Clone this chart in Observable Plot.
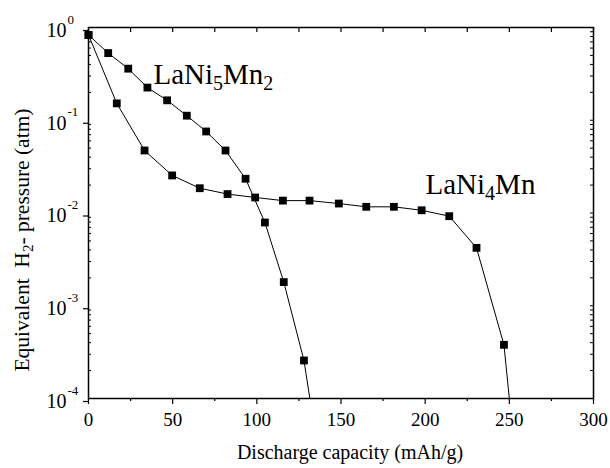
<!DOCTYPE html>
<html><head><meta charset="utf-8">
<script src="https://cdn.jsdelivr.net/npm/d3@7"></script>
<script src="https://cdn.jsdelivr.net/npm/@observablehq/plot@0.6"></script>
<style>body{margin:0;background:#fff}</style>
</head><body><div id="chart"></div>
<script>
// LaNi5Mn2 series (discharge capacity mAh/g, equivalent H2 pressure atm)
const capA  = [0, 11.7, 23.6, 35, 46.7, 58.4, 69.9, 81.4, 93.3, 104.8, 116, 128];
const presA = [0.83, 0.53, 0.36, 0.225, 0.164, 0.112, 0.0757, 0.0472, 0.0234, 0.0079, 0.0018, 0.000257];
const endA  = [131.5, 1e-4];
// LaNi4Mn series
const capB  = [0, 16.8, 33.3, 49.7, 66.1, 82.6, 99, 115.5, 131.3, 148.7, 165, 181.4, 197.9, 214.3, 230.5, 246.8];
const presB = [0.83, 0.152, 0.0472, 0.0254, 0.0185, 0.016, 0.0147, 0.0136, 0.0136, 0.01265, 0.01166, 0.01166, 0.0107, 0.00924, 0.00421, 0.000379];
const endB  = [250, 1e-4];
// tick labels
const xTicks = [0, 50, 100, 150, 200, 250, 300];
const xMinorTicks = [25, 75, 125, 175, 225, 275];
const yTicks = [1, 0.1, 0.01, 0.001, 0.0001];
const yExps = ["0", "-1", "-2", "-3", "-4"];
// labels
const seriesNames = ["LaNi5Mn2", "LaNi4Mn"];
const seriesParts = [[["LaNi",0],["5",1],["Mn",0],["2",1]], [["LaNi",0],["4",1],["Mn",0]]];
const seriesLabelPos = [[38.6, 0.249], [200.2, 0.0162]];
const xLabel = "Discharge capacity (mAh/g)";
const yLabelParts = [["Equivalent  H",0],["2",1],["- pressure (atm)",0]];

const W = 610, H = 468, mL = 88, mR = 17, mT = 27, mB = 70;
const plotW = W - mL - mR, plotH = H - mT - mB;

const yMinor = [];
for (let e = -4; e < 0; e++) for (let k = 2; k <= 9; k++) yMinor.push(k * Math.pow(10, e));
const xAllTicks = xTicks.concat(xMinorTicks);

const rowsA = capA.map((c, i) => ({x: c, y: presA[i]}));
const rowsB = capB.map((c, i) => ({x: c, y: presB[i]}));
const lineA = rowsA.concat([{x: endA[0], y: endA[1]}]);
const lineB = rowsB.concat([{x: endB[0], y: endB[1]}]);
const labels = seriesNames.map((n, i) => ({name: n, x: seriesLabelPos[i][0], y: seriesLabelPos[i][1]}));

const font = "Liberation Serif";
const LBL = 29;
const chart = Plot.plot({
  width: W, height: H, marginLeft: mL, marginRight: mR, marginTop: mT, marginBottom: mB,
  style: {fontFamily: font, background: "white", color: "black", overflow: "visible"},
  x: {domain: [0, 300], label: null},
  y: {type: "log", domain: [1e-4, 1], label: null},
  marks: [
    Plot.axisX({anchor: "bottom", ticks: xTicks, tickSize: 6, tickPadding: 8, fontSize: 19, fontFamily: font, tickFormat: d => String(d), label: null, strokeWidth: 1.2}),
    Plot.axisX({anchor: "bottom", ticks: xMinorTicks, tickSize: 3, tickFormat: () => "", label: null, strokeWidth: 1.2}),
    Plot.tickX(xAllTicks, {x: d => d, insetBottom: plotH - 5, strokeWidth: 1.2}),
    Plot.axisY({anchor: "left", ticks: yTicks, tickSize: 5, tickPadding: 17, fontSize: 20, fontFamily: font, dy: 3, tickFormat: () => "10", label: null, strokeWidth: 1.2}),
    Plot.text(yTicks, {y: d => d, text: (d, i) => yExps[i], frameAnchor: "left", textAnchor: "start", dx: -21, dy: -8, fontSize: 13, fontFamily: font}),
    Plot.tickY(yMinor, {y: d => d, insetRight: plotW - 3}),
    Plot.tickY(yMinor.concat(yTicks), {y: d => d, insetLeft: plotW - 3}),
    Plot.frame({strokeWidth: 1.5}),
    Plot.line(lineA, {x: "x", y: "y", stroke: "black", strokeWidth: 1}),
    Plot.line(lineB, {x: "x", y: "y", stroke: "black", strokeWidth: 1}),
    Plot.dot(rowsA, {x: "x", y: "y", symbol: "square", r: 4.4, fill: "black", stroke: null}),
    Plot.dot(rowsB, {x: "x", y: "y", symbol: "square", r: 4.4, fill: "black", stroke: null}),
    Plot.text(labels, {x: "x", y: "y", text: "name", textAnchor: "start", lineAnchor: "bottom", fontSize: LBL, fontFamily: font, fill: "black"})
  ]
});
document.getElementById("chart").appendChild(chart);

function fillParts(sel, parts, size) {
  sel.text(null);
  const shift = Math.round(size * 0.2);
  let cur = 0;
  parts.forEach(([t, sub]) => {
    const target = sub ? shift : 0;
    sel.append("tspan").attr("dy", target - cur).attr("font-size", sub ? Math.round(size * 0.68) : size).text(t);
    cur = target;
  });
}

const svg = d3.select(chart);
svg.selectAll("text").each(function() {
  const i = seriesNames.indexOf(this.textContent);
  if (i >= 0) fillParts(d3.select(this), seriesParts[i], LBL);
});

svg.append("text")
  .attr("x", 350).attr("y", H - 9)
  .attr("text-anchor", "middle").attr("font-size", 20).attr("font-family", font).attr("fill", "black")
  .text(xLabel);

const yl = svg.append("text")
  .attr("transform", `translate(29,240) rotate(-90)`)
  .attr("text-anchor", "middle").attr("font-size", 21.5).attr("font-family", font).attr("fill", "black")
  .style("white-space", "pre");
fillParts(yl, yLabelParts, 21.5);
</script>
</body></html>
